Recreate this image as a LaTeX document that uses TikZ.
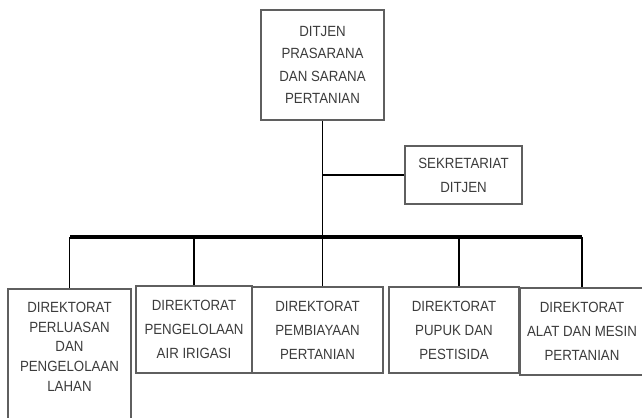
\documentclass[tikz,border=0pt]{standalone}
\usepackage{fontspec}
\setmainfont{Liberation Sans}[FakeStretch=0.9]
\usepackage{tikz}
\usetikzlibrary{positioning, calc}
\definecolor{frame}{RGB}{95,95,95}
\definecolor{label}{RGB}{60,60,60}

\begin{document}
\begin{tikzpicture}[
      x=0.025cm, y=-0.025cm,
      unit/.style={draw=frame, line width=1.1pt, fill=white, align=center, inner sep=2pt, text=label, font=\fontsize{10.5}{17}\selectfont},
      link/.style={line width=1.3pt},
      bus/.style={line width=2.2pt}
    ]
    \useasboundingbox (0,0) rectangle (642,417);

    % Top unit
    \node[unit, minimum width=123*0.025cm, minimum height=110*0.025cm, font=\fontsize{10.5}{16}\selectfont] (ditjen) at (322.5,65) {DITJEN\\PRASARANA\\DAN SARANA\\PERTANIAN};
    \node[unit, minimum width=117*0.025cm, minimum height=58*0.025cm] (sekretariat) at (463.5,175) {SEKRETARIAT\\DITJEN};

    % Directorates
    \node[unit, minimum width=123*0.025cm, minimum height=140*0.025cm, anchor=north, text depth=17pt, font=\fontsize{10.5}{14}\selectfont] (dirlahan) at (69.5,288) {DIREKTORAT\\PERLUASAN\\DAN\\PENGELOLAAN\\LAHAN};
    \node[unit, minimum width=116*0.025cm, minimum height=87*0.025cm] (dirair) at (194,329.5) {DIREKTORAT\\PENGELOLAAN\\AIR IRIGASI};
    \node[unit, minimum width=131*0.025cm, minimum height=86*0.025cm] (dirbiaya) at (317.5,330) {DIREKTORAT\\PEMBIAYAAN\\PERTANIAN};
    \node[unit, minimum width=130*0.025cm, minimum height=86*0.025cm] (dirpupuk) at (454,330) {DIREKTORAT\\PUPUK DAN\\PESTISIDA};
    \node[unit, minimum width=124*0.025cm, minimum height=87*0.025cm] (diralsin) at (582,331.5) {DIREKTORAT\\ALAT DAN MESIN\\PERTANIAN};

    % Bus line
    \coordinate (busL) at (70,237);
    \coordinate (busR) at (582,237);
    \draw[bus] (busL) -- (busR);

    % Links
    \draw[link] (ditjen.south) -- (ditjen.south |- busL);
    \draw[link] (ditjen.south |- sekretariat.west) -- (sekretariat.west);
    \draw[link] (dirlahan.north) -- (dirlahan.north |- busL);
    \draw[link] (dirair.north) -- (dirair.north |- busL);
    \draw[link] (dirbiaya.north -| ditjen.south) -- (ditjen.south |- busL);
    \draw[link] ($(dirpupuk.north)+(5,0)$) -- ($(dirpupuk.north |- busL)+(5,0)$);
    \draw[link] (diralsin.north) -- (diralsin.north |- busL);

  \end{tikzpicture}
\end{document}
